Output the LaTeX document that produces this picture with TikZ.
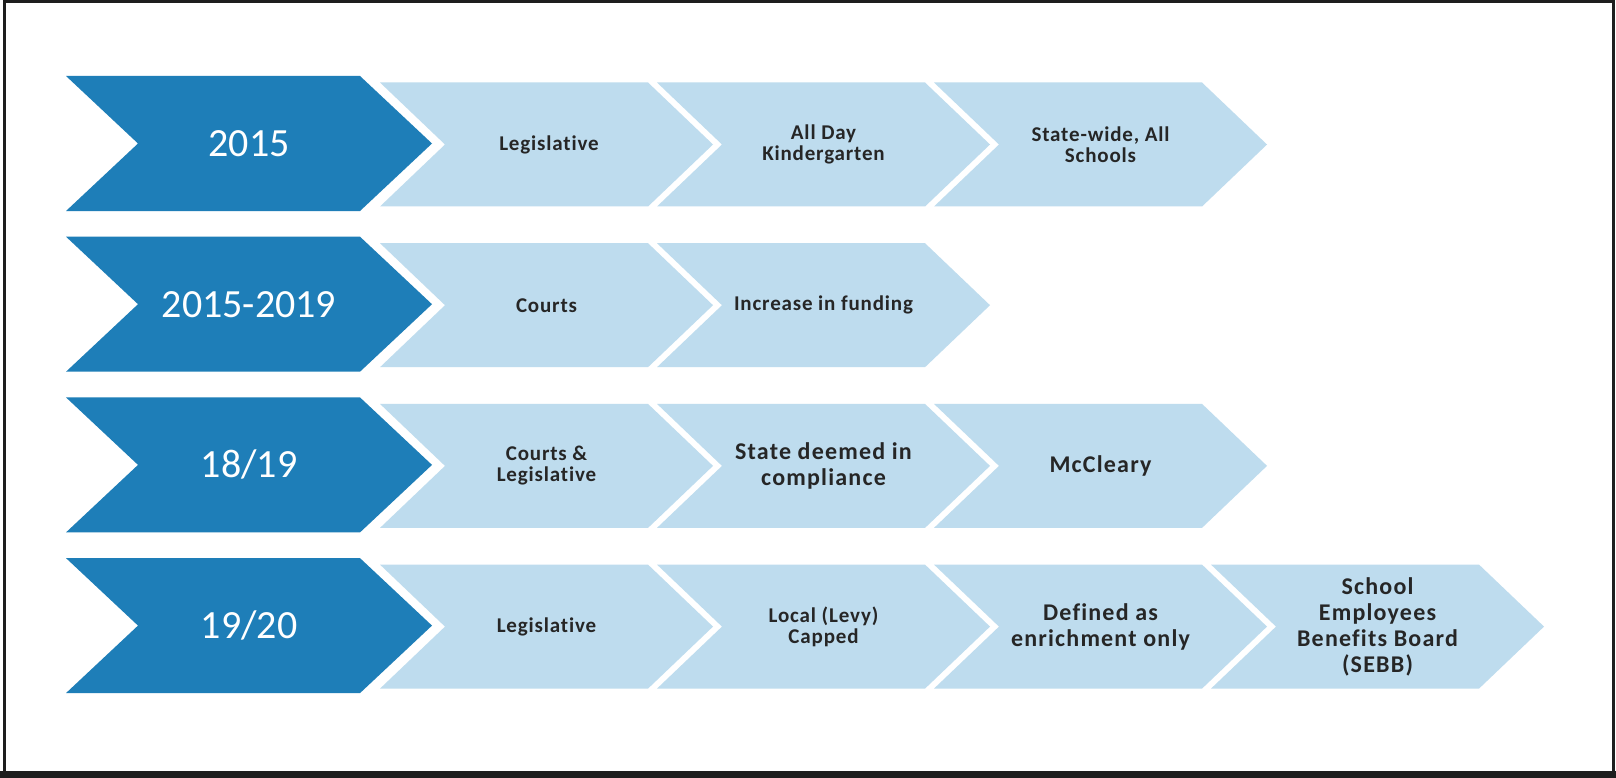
\documentclass[tikz,border=0pt]{standalone}
\usepackage{fontspec}
\setmainfont{Carlito}
\newfontfamily\smallspaced[LetterSpace=4,Ligatures=NoCommon]{Carlito}
\newfontfamily\largespaced[LetterSpace=5,Ligatures=NoCommon]{Carlito}
\definecolor{darkblue}{RGB}{30,126,184}
\definecolor{lightblue}{RGB}{190,220,238}
\definecolor{framecol}{RGB}{30,30,30}
\newcommand\mychev[6]{\fill[#6] (#1,#2-#5) -- (#1+#3-#4,#2-#5) -- (#1+#3,#2) -- (#1+#3-#4,#2+#5) -- (#1,#2+#5) -- (#1+#4,#2) -- cycle;}
\tikzset{
  yearlbl/.style={text=white, font=\fontsize{40}{44}\selectfont, inner sep=0pt},
  smalllbl/.style={text=black!85, font=\smallspaced\bfseries\fontsize{21}{21}\selectfont, align=center, inner sep=0pt},
  largelbl/.style={text=black!85, font=\largespaced\bfseries\fontsize{24}{26}\selectfont, align=center, inner sep=0pt},
}
\begin{document}
\begin{tikzpicture}[x=1pt,y=-1pt]
\useasboundingbox (0,0) rectangle (1616,778);
\fill[white] (0,0) rectangle (1616,778);
% frame
\draw[framecol, line width=3pt] (4,1.5) -- (1613,1.5);
\draw[framecol, line width=3pt] (4,0) -- (4,778);
\draw[framecol, line width=3pt] (1613,0) -- (1613,778);
\fill[framecol] (0,771) rectangle (1616,778);
% dark chevrons
\foreach \yc in {143.5,304.2,464.9,625.6}{
  \mychev{66}{\yc}{366}{72}{67.5}{darkblue}
}
% light chevrons
\foreach \x in {380,657,934}{ \mychev{\x}{144.5}{333}{65}{62}{lightblue} }
\foreach \x in {380,657}{ \mychev{\x}{305.2}{333}{65}{62}{lightblue} }
\foreach \x in {380,657,934}{ \mychev{\x}{465.9}{333}{65}{62}{lightblue} }
\foreach \x in {380,657,934,1211}{ \mychev{\x}{626.6}{333}{65}{62}{lightblue} }
% year labels
\node[yearlbl] (y1) at (249,143.5) {2015};
\node[yearlbl] (y2) at (249,304.2) {2015-2019};
\node[yearlbl] (y3) at (249,464.9) {18/19};
\node[yearlbl] (y4) at (249,625.6) {19/20};
% row 1
\node[smalllbl] (r1a) at (549,144.5) {Legislative};
\node[smalllbl] (r1b) at (823.5,144.5) {All Day\\Kindergarten};
\node[smalllbl] (r1c) at (1100.5,144.5) {State-wide, All\\Schools};
% row 2
\node[smalllbl] (r2a) at (546.5,305.2) {Courts};
\node[smalllbl] (r2b) at (823.5,305.2) {Increase in funding};
% row 3
\node[smalllbl] (r3a) at (546.5,465.9) {Courts \&\\Legislative};
\node[largelbl] (r3b) at (823.5,465.9) {State deemed in\\compliance};
\node[largelbl] (r3c) at (1100.5,465.9) {McCleary};
% row 4
\node[smalllbl] (r4a) at (546.5,626.6) {Legislative};
\node[smalllbl] (r4b) at (823.5,626.6) {Local (Levy)\\Capped};
\node[largelbl] (r4c) at (1100.5,626.6) {Defined as\\enrichment only};
\node[largelbl] (r4d) at (1377.5,626.6) {School\\Employees\\Benefits Board\\(SEBB)};
\end{tikzpicture}
\end{document}
